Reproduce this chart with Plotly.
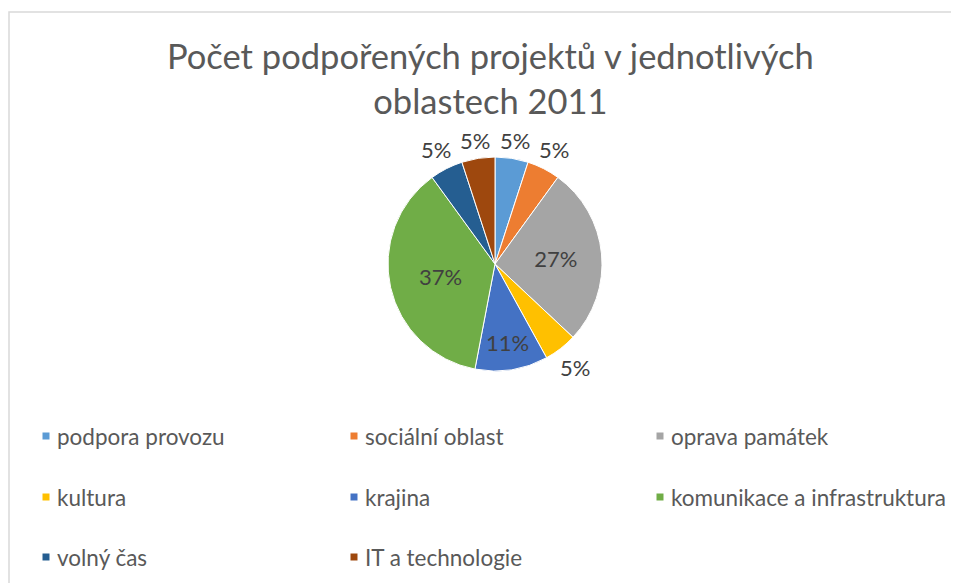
import math
import plotly.graph_objects as go

categories = ["podpora provozu", "sociální oblast", "oprava památek", "kultura",
              "krajina", "komunikace a infrastruktura", "volný čas", "IT a technologie"]
values = [5, 5, 27, 5, 11, 37, 5, 5]
colors = ["#5B9BD5", "#ED7D31", "#A5A5A5", "#FFC000", "#4472C4", "#70AD47", "#255E91", "#9E480E"]
label_inside = [False, False, True, False, True, True, False, False]

# the page body has an 8px margin; work in screen pixels and convert
OFF = 8
W, H = 959 - OFF, 583 - OFF
def px(x): return (x - OFF) / W
def py(y): return 1 - (y - OFF) / H

cx, cy, r = 495, 264, 107
FONT = "Lato"
LBL_SIZE = 22

fig = go.Figure()
fig.add_trace(go.Pie(
    labels=categories, values=values, sort=False, direction="clockwise", rotation=0,
    marker=dict(colors=colors, line=dict(color="white", width=1)),
    texttemplate=["%{percent:.0%}" if ins else "" for ins in label_inside],
    textposition=["inside" if ins else "none" for ins in label_inside],
    insidetextorientation="horizontal",
    textfont=dict(family=FONT, size=LBL_SIZE, color="#404040"),
    domain=dict(x=[px(cx - r), px(cx + r)], y=[py(cy + r), py(cy - r)]),
    showlegend=False, hoverinfo="label+percent",
))

shapes = [
    dict(type="path", xref="paper", yref="paper",
         path=f"M {px(9)} {py(600)} L {px(9)} {py(12)} L {px(980)} {py(12)}",
         line=dict(color="#D9D9D9", width=1.5)),
]
annotations = [
    dict(text="Počet podpořených projektů v jednotlivých<br>oblastech 2011",
         x=px(491), y=py(78), xref="paper", yref="paper", showarrow=False,
         font=dict(family=FONT, size=34.5, color="#595959"), align="center",
         xanchor="center", yanchor="middle"),
]

# outside percentage labels for small slices, placed from the slice mid-angle
total = sum(values)
cum = 0
for v, ins in zip(values, label_inside):
    mid = (cum + v / 2) / total * 2 * math.pi
    cum += v
    if ins:
        continue
    s, c = math.sin(mid), math.cos(mid)
    rad = r + 4 + abs(s) * 18 + abs(c) * 11
    lx, ly = cx + rad * s, cy - rad * c
    annotations.append(dict(text=f"{round(v / total * 100)}%", x=px(lx), y=py(ly),
                            xref="paper", yref="paper", showarrow=False,
                            xanchor="center", yanchor="middle",
                            font=dict(family=FONT, size=LBL_SIZE, color="#404040")))

col_x = [46, 354, 660]
row_y = [436, 497, 557]
for i, (cat, col) in enumerate(zip(categories, colors)):
    x = col_x[i % 3]
    y = row_y[i // 3]
    shapes.append(dict(type="rect", xref="paper", yref="paper",
                       x0=px(x - 3.5), x1=px(x + 3.5), y0=py(y + 3.5), y1=py(y - 3.5),
                       fillcolor=col, line=dict(width=0)))
    annotations.append(dict(text=cat, x=px(x + 9), y=py(y), xref="paper", yref="paper",
                            showarrow=False, xanchor="left", yanchor="middle",
                            font=dict(family=FONT, size=22.5, color="#595959")))

fig.update_layout(
    width=W, height=H, margin=dict(l=0, r=0, t=0, b=0),
    paper_bgcolor="white", plot_bgcolor="white",
    shapes=shapes, annotations=annotations,
)
fig.write_html("out.html")
